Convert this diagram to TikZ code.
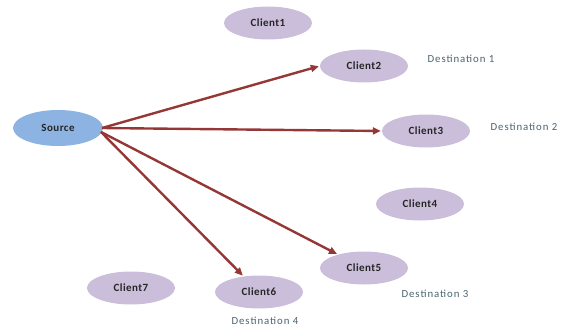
\documentclass[tikz,border=0pt]{standalone}
\usepackage{fontspec}
\setmainfont{Carlito}
\usetikzlibrary{shapes.geometric,arrows.meta}
\definecolor{srcfill}{HTML}{8DB3E2}
\definecolor{clfill}{HTML}{CBBEDA}
\definecolor{arrowred}{HTML}{953735}
\definecolor{desttext}{HTML}{4A6470}
\tikzset{
  cl/.style={ellipse, fill=clfill, draw=none, minimum width=88pt, minimum height=33pt, inner sep=0pt, font=\fontsize{11}{12}\selectfont\bfseries\addfontfeature{LetterSpace=4}, text=black!85},
  srcnode/.style={cl, fill=srcfill},
  dest/.style={font=\fontsize{10.8}{12}\selectfont\addfontfeature{LetterSpace=9}, text=desttext},
  link/.style={draw=arrowred, line width=2.4pt, -{Triangle[length=8pt,width=7pt]}, shorten >=1pt}
}
\begin{document}
\begin{tikzpicture}[x=1pt,y=-1pt]
\useasboundingbox (0,0) rectangle (563,329);
\node[srcnode, minimum width=90pt, minimum height=36pt] (src) at (58,128) {Source};
\node[cl] (c1) at (268,23) {Client1};
\node[cl] (c2) at (364,66) {Client2};
\node[cl] (c3) at (426,131) {Client3};
\node[cl] (c4) at (420,204) {Client4};
\node[cl] (c5) at (364,268) {Client5};
\node[cl] (c6) at (259,292) {Client6};
\node[cl] (c7) at (131,288) {Client7};
\node[dest] (d1) at (461,59) {Destination 1};
\node[dest] (d2) at (524,127) {Destination 2};
\node[dest] (d3) at (435,294) {Destination 3};
\node[dest] (d4) at (265,321) {Destination 4};
\coordinate (s1) at (102,128);
\coordinate (s2) at (101,132);
\draw[link] (s1) -- (c2.west);
\draw[link] (s1) -- (c3.west);
\draw[link] (s2) -- (c5);
\draw[link] (s2) -- (c6);
\end{tikzpicture}
\end{document}
